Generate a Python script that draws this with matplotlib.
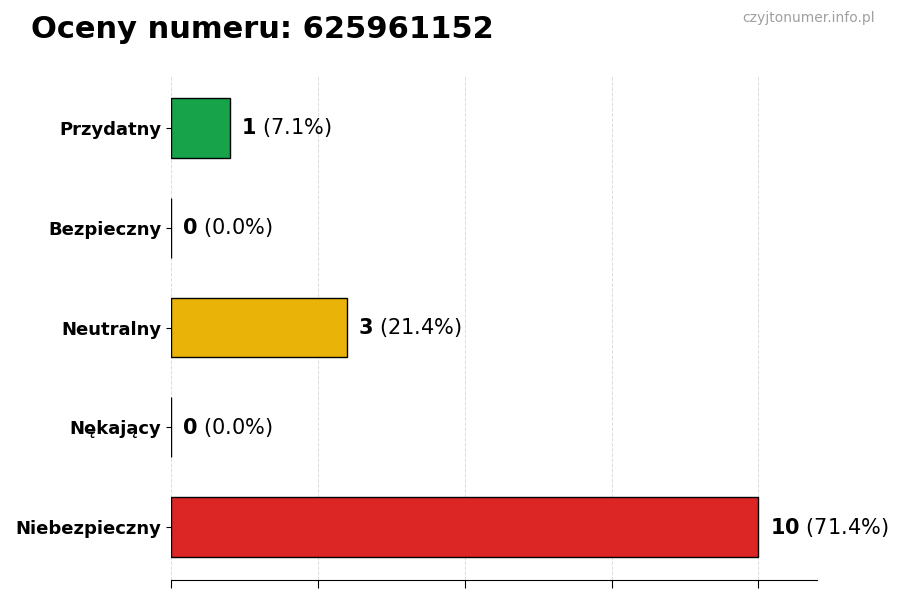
import matplotlib
matplotlib.use("Agg")
import matplotlib.pyplot as plt
import numpy as np

categories = ["Przydatny", "Bezpieczny", "Neutralny", "Nękający", "Niebezpieczny"]
counts = [1, 0, 3, 0, 10]
colors = ["#17a34a", "#9ca3af", "#eab308", "#f97316", "#dc2626"]
title = "Oceny numeru: 625961152"
watermark = "czyjtonumer.info.pl"

total = sum(counts)
fig = plt.figure(figsize=(9, 6), dpi=100)
ax = fig.add_axes([0.19, 0.0333, 0.718, 0.84])

y = np.arange(len(categories))
ax.barh(y, counts, height=0.6, color=colors, edgecolor="black", linewidth=1.0, zorder=3)
ax.set_yticks(y)
ax.set_yticklabels(categories, fontsize=13, fontweight="bold")
ax.set_ylim(len(categories) - 0.47, -0.52)
ax.set_xlim(0, 11)
ax.set_xticks([0, 2.5, 5, 7.5, 10])
ax.set_xticklabels([])
ax.tick_params(axis="x", length=6)
ax.grid(axis="x", linestyle="--", color="#dcdcdc", linewidth=0.7, zorder=0)
for s in ["top", "right", "left"]:
    ax.spines[s].set_visible(False)

for yi, c in zip(y, counts):
    pct = 100.0 * c / total
    ax.annotate(r"$\bf{%d}$ (%.1f%%)" % (c, pct), xy=(c, yi), xytext=(8, 0),
                textcoords="offset points", va="center", ha="left", fontsize=15)

fig.text(0.034, 0.95, title, fontsize=22, fontweight="bold", ha="left", va="center")
fig.text(0.972, 0.97, watermark, fontsize=10, color="#a0a0a0", ha="right", va="center")

fig.savefig("out.png", dpi=100)
